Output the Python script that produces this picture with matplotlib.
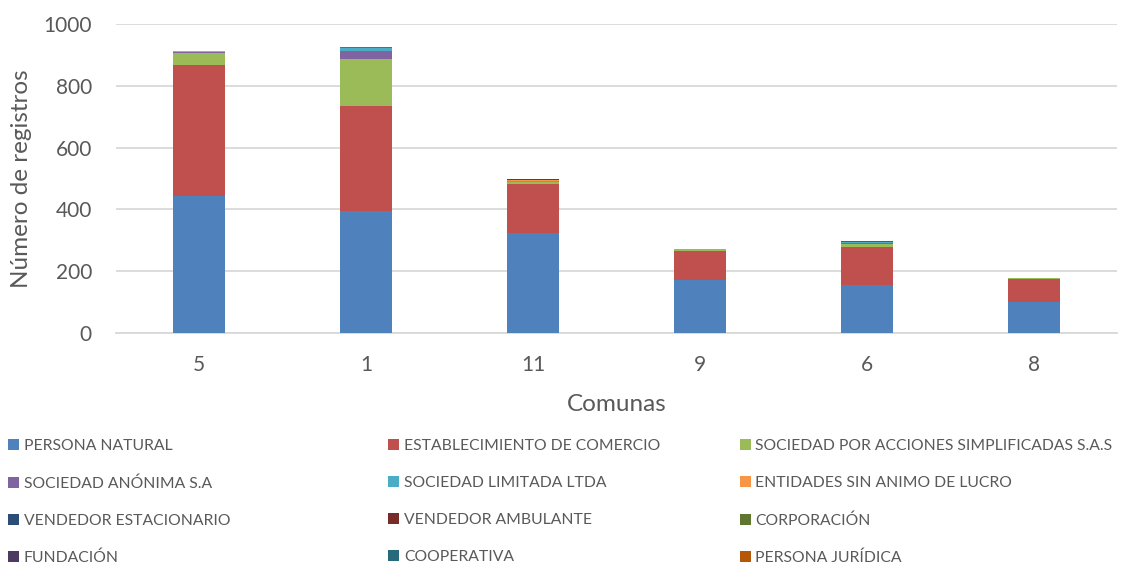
import matplotlib
matplotlib.use("Agg")
import matplotlib.pyplot as plt
import numpy as np

plt.rcParams['font.family'] = ['Lato', 'DejaVu Sans']

comunas = ["5", "1", "11", "9", "6", "8"]
series_names = [
    "PERSONA NATURAL", "ESTABLECIMIENTO DE COMERCIO", "SOCIEDAD POR ACCIONES SIMPLIFICADAS S.A.S",
    "SOCIEDAD ANÓNIMA S.A", "SOCIEDAD LIMITADA LTDA", "ENTIDADES SIN ANIMO DE LUCRO",
    "VENDEDOR ESTACIONARIO", "VENDEDOR AMBULANTE", "CORPORACIÓN",
    "FUNDACIÓN", "COOPERATIVA", "PERSONA JURÍDICA",
]
persona_natural = [443, 396, 325, 172, 155, 101]
establecimiento = [425, 339, 158, 93, 122, 74]
sas = [38, 153, 5, 5, 12, 1]
sociedad_anonima = [4, 25, 1, 0, 3, 0]
ltda = [1, 10, 2, 3, 3, 0]
esal = [1, 1, 4, 0, 0, 0]
vend_estacionario = [0, 0, 0, 0, 0, 0]
vend_ambulante = [0, 0, 0, 0, 0, 0]
corporacion = [0, 0, 0, 0, 0, 0]
fundacion = [1, 0, 3, 0, 0, 0]
cooperativa = [0, 0, 0, 0, 2, 0]
persona_juridica = [0, 2, 0, 0, 0, 0]

values = [persona_natural, establecimiento, sas, sociedad_anonima, ltda, esal,
          vend_estacionario, vend_ambulante, corporacion, fundacion, cooperativa, persona_juridica]
colors = ["#4F81BD", "#C0504D", "#9BBB59", "#8064A2", "#4BACC6", "#F79646",
          "#2C4D75", "#772C2A", "#5F7530", "#4D3B62", "#276A7C", "#B65708"]

fig = plt.figure(figsize=(11.45, 5.65), dpi=100)
ax = fig.add_axes([0.1009, 0.411, 0.875, 0.546])

x = np.arange(len(comunas))
bottom = np.zeros(len(comunas))
handles = []
for name, vals, c in zip(series_names, values, colors):
    v = np.array(vals, dtype=float)
    b = ax.bar(x, v, bottom=bottom, width=0.31, color=c, label=name, linewidth=0, zorder=3)
    handles.append(b)
    bottom += v

ax.set_xlim(-0.5, len(comunas) - 0.5)
ax.set_ylim(0, 1000)
ax.set_yticks(np.arange(0, 1001, 200))
ax.set_xticks(x)
ax.set_xticklabels(comunas)
ax.yaxis.grid(True, color="#D9D9D9", linewidth=1.3, zorder=0)
ax.set_axisbelow(True)
for s in ["top", "right", "left"]:
    ax.spines[s].set_visible(False)
ax.spines["bottom"].set_color("#D9D9D9")
ax.spines["bottom"].set_linewidth(1.3)
ax.tick_params(axis="both", length=0, labelsize=15, colors="#595959")
ax.tick_params(axis="y", pad=17)
ax.tick_params(axis="x", pad=16)
ax.set_ylabel("Número de registros", fontsize=17.5, color="#595959", labelpad=8)
ax.set_xlabel("Comunas", fontsize=17.5, color="#595959", labelpad=14)

col_x = [0.003, 0.335, 0.642]
for ci in range(3):
    hs = [handles[i] for i in range(ci, 12, 3)]
    ls = [series_names[i] for i in range(ci, 12, 3)]
    leg = fig.legend(hs, ls, loc="upper left", bbox_to_anchor=(col_x[ci], 0.231),
                     frameon=False, fontsize=11.3, handlelength=0.7, handleheight=0.7,
                     handletextpad=0.3, labelspacing=1.46, borderaxespad=0, borderpad=0.3)
    for t in leg.get_texts():
        t.set_color("#595959")

fig.savefig("out.png", dpi=100)
